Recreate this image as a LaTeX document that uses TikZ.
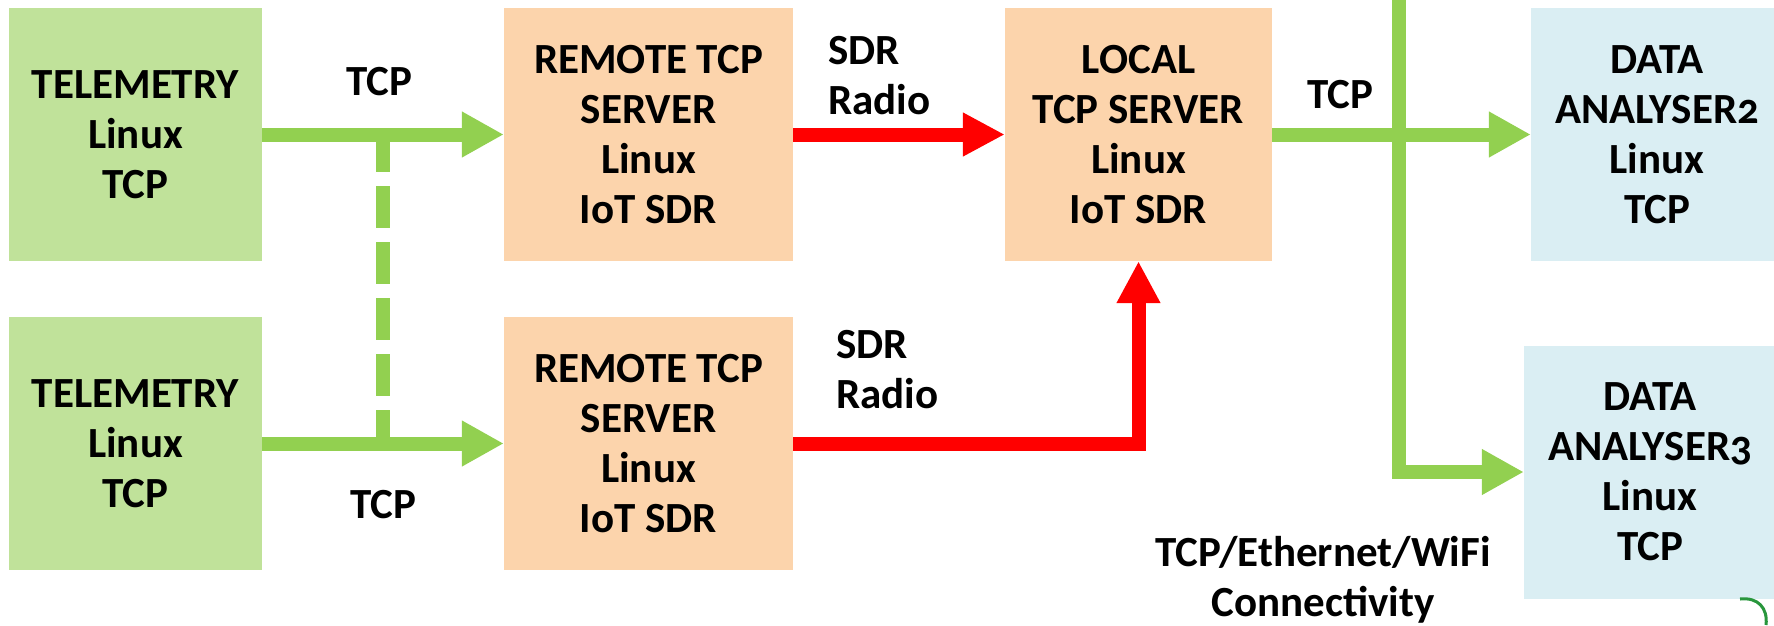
\documentclass[tikz,border=0pt]{standalone}
\usepackage{fontspec}
\setmainfont{Carlito}
\usetikzlibrary{arrows.meta}
\definecolor{boxgreen}{RGB}{192,226,154}
\definecolor{boxorange}{RGB}{252,212,172}
\definecolor{boxblue}{RGB}{218,238,243}
\definecolor{linegreen}{RGB}{146,208,80}
\definecolor{logogreen}{RGB}{40,150,60}
\newcommand{\mainfnt}{\fontsize{43}{50}\selectfont\bfseries}
\begin{document}
\begin{tikzpicture}[x=1pt,y=-1pt,
  blk/.style={minimum height=253pt, inner sep=0pt, align=center, font=\mainfnt, text=black},
  lbl/.style={inner sep=0pt, font=\mainfnt, text=black},
  garrow/.style={draw=linegreen, line width=14pt, -{Triangle[length=42pt,width=43pt]}},
  rarrow/.style={draw=red, line width=14pt, -{Triangle[length=42pt,width=41pt]}},
  gdash/.style={draw=linegreen, line width=14pt, dash pattern=on 42pt off 14pt}
]
\useasboundingbox (0,0) rectangle (1774,625);
\clip (0,0) rectangle (1774,625);
% boxes
\node[blk, fill=boxgreen, minimum width=253pt] (tel1) at (135.5,134.5) {TELEMETRY\\Linux\\TCP};
\node[blk, fill=boxgreen, minimum width=253pt] (tel2) at (135.5,443.5) {TELEMETRY\\Linux\\TCP};
\node[blk, fill=boxorange, minimum width=289pt] (rem1) at (648.5,134.5) {REMOTE TCP\\SERVER\\Linux\\IoT SDR};
\node[blk, fill=boxorange, minimum width=289pt] (rem2) at (648.5,443.5) {REMOTE TCP\\SERVER\\Linux\\IoT SDR};
\node[blk, fill=boxorange, minimum width=267pt] (loc) at (1138.5,134.5) {LOCAL\\TCP SERVER\\Linux\\IoT SDR};
\node[blk, fill=boxblue, minimum width=252pt] (da2) at (1657,134.5) {DATA\\ANALYSER{\addfontfeature{Numbers=OldStyle}2}\\Linux\\TCP};
\node[blk, fill=boxblue, minimum width=252pt] (da3) at (1650,472) {DATA\\ANALYSER{\addfontfeature{Numbers=OldStyle}3}\\Linux\\TCP};
% dashed link
\coordinate (j1) at (383,130);
\coordinate (j2) at (383,450);
\draw[gdash] (j1) -- (j2);
% green arrows
\draw[garrow] (tel1.east) -- (rem1.west);
\draw[garrow] (tel2.east) -- (rem2.west);
\draw[garrow] (loc.east) -- (da2.west);
\coordinate (bus) at (1399,-10);
\draw[garrow] (bus) |- (da3.west);
% red arrows
\draw[rarrow] (rem1.east) -- (loc.west);
\draw[rarrow] (rem2.east) -| (loc.south);
% labels
\node[lbl] (tcpa) at (379,82) {TCP};
\node[lbl] (tcpb) at (383,505) {TCP};
\node[lbl] (tcpc) at (1340,94.5) {TCP};
\node[lbl, align=left, anchor=west] (sdra) at (828,76) {SDR\\Radio};
\node[lbl, align=left, anchor=west] (sdrb) at (836,370) {SDR\\Radio};
\node[lbl, align=center] (conn) at (1323,580) {TCP/Ethernet/WiFi\\Connectivity};
% logo fragment
\draw[logogreen, line width=3pt] (1740,599) .. controls (1758,597) and (1768,608) .. (1766,625);
\end{tikzpicture}
\end{document}
